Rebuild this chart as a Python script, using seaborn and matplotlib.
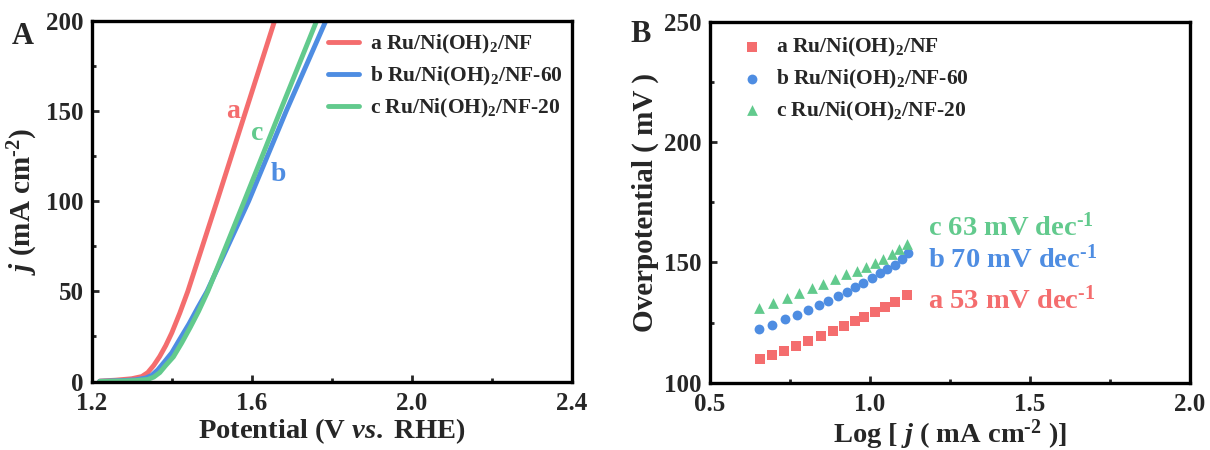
import numpy as np
import pandas as pd
import matplotlib
matplotlib.use('Agg')
from matplotlib import pyplot as plt
from matplotlib.ticker import MultipleLocator, FormatStrFormatter
import seaborn as sns

# Panel A: polarisation curves (potential V vs RHE, current density mA cm-2)
v_a = [1.22, 1.26, 1.30, 1.325, 1.34, 1.355, 1.37, 1.385, 1.40, 1.42, 1.44, 1.513, 1.585, 1.657]
j_a = [0.3, 0.8, 1.6, 2.8, 5.0, 9.0, 14.0, 20.0, 27.0, 38.0, 50.0, 100.0, 150.0, 200.0]
v_b = [1.22, 1.27, 1.31, 1.335, 1.35, 1.365, 1.38, 1.40, 1.42, 1.443, 1.465, 1.488, 1.592, 1.686, 1.785]
j_b = [0.2, 0.5, 1.0, 2.0, 3.5, 6.5, 10.5, 16.0, 23.5, 32.0, 41.0, 50.0, 100.0, 150.0, 200.0]
v_c = [1.22, 1.27, 1.31, 1.34, 1.355, 1.37, 1.385, 1.404, 1.425, 1.446, 1.467, 1.49, 1.581, 1.671, 1.762]
j_c = [0.1, 0.3, 0.6, 1.2, 2.5, 5.0, 9.0, 13.7, 21.5, 30.0, 39.0, 50.0, 100.0, 150.0, 200.0]

# Panel B: Tafel data (log j, overpotential mV)
logj_a = [0.656, 0.694, 0.732, 0.769, 0.807, 0.846, 0.885, 0.919, 0.953, 0.981, 1.016, 1.047, 1.078, 1.115]
eta_a = [109.7, 111.5, 113.3, 115.4, 117.4, 119.2, 121.5, 123.5, 125.5, 127.4, 129.5, 131.5, 133.6, 136.4]
logj_b = [0.654, 0.693, 0.734, 0.771, 0.807, 0.842, 0.870, 0.901, 0.927, 0.953, 0.979, 1.005, 1.031,
          1.054, 1.078, 1.099, 1.120]
eta_b = [122.2, 123.9, 126.3, 128.1, 130.2, 132.2, 133.9, 136.0, 137.8, 139.6, 141.5, 143.6, 145.4,
         147.1, 149.1, 151.2, 153.9]
logj_c = [0.654, 0.696, 0.740, 0.779, 0.818, 0.854, 0.891, 0.925, 0.958, 0.988, 1.016, 1.042, 1.068,
          1.092, 1.115]
eta_c = [130.9, 133.2, 135.0, 137.3, 139.2, 141.2, 142.9, 145.0, 146.5, 148.1, 149.8, 151.6, 153.4,
         155.4, 157.8]

labels = ['a Ru/Ni(OH)$_2$/NF', 'b Ru/Ni(OH)$_2$/NF-60', 'c Ru/Ni(OH)$_2$/NF-20']
tafel = [r'a 53 mV dec$^{\text{-}1}$', r'b 70 mV dec$^{\text{-}1}$', r'c 63 mV dec$^{\text{-}1}$']
colors = ['#F46D6E', '#4E8DE2', '#62CA8D']

sns.set_style('ticks')
plt.rcParams['font.family'] = ['Liberation Serif', 'DejaVu Serif']
plt.rcParams['font.weight'] = 'bold'
plt.rcParams['axes.labelweight'] = 'bold'
plt.rcParams['mathtext.fontset'] = 'custom'
plt.rcParams['mathtext.rm'] = 'Liberation Serif:bold'
plt.rcParams['mathtext.bf'] = 'Liberation Serif:bold'
plt.rcParams['mathtext.it'] = 'Liberation Serif:italic:bold'

fig = plt.figure(figsize=(12.1, 4.5), dpi=100)
ax1 = fig.add_axes([0.0758, 0.152, 0.397, 0.802])
ax2 = fig.add_axes([0.5868, 0.1496, 0.3967, 0.802])


def style_axis(ax):
    for s in ['top', 'bottom', 'left', 'right']:
        ax.spines[s].set_linewidth(2.4)
        ax.spines[s].set_color('black')
    ax.tick_params(which='major', direction='in', length=5, width=2, labelsize=18, pad=6,
                   top=False, right=False)
    ax.tick_params(axis='x', which='major', pad=7.5)
    ax.tick_params(which='minor', direction='in', length=3, width=2, top=False, right=False)
    for t in ax.get_xticklabels() + ax.get_yticklabels():
        t.set_fontweight('bold')


# Panel A
curves = [(v_a, j_a), (v_b, j_b), (v_c, j_c)]
for (xv, yv), lab, col in zip(curves, labels, colors):
    sns.lineplot(x=xv, y=yv, color=col, lw=3.5, label=lab, ax=ax1, sort=False)
ax1.set_xlim(1.2, 2.4)
ax1.set_ylim(0, 200)
ax1.xaxis.set_major_locator(MultipleLocator(0.4))
ax1.xaxis.set_minor_locator(MultipleLocator(0.2))
ax1.xaxis.set_major_formatter(FormatStrFormatter('%.1f'))
ax1.yaxis.set_major_locator(MultipleLocator(50))
ax1.yaxis.set_minor_locator(MultipleLocator(25))
ax1.set_xlabel('Potential (V $vs.$ RHE)', fontsize=20.5, labelpad=1)
ax1.set_ylabel(r'$j$ (mA cm$^{\text{-}2}$)', fontsize=21, labelpad=4)
style_axis(ax1)
ax1.legend(loc='upper left', bbox_to_anchor=(0.491, 0.965), frameon=False, fontsize=15.5,
           borderpad=0, borderaxespad=0, handlelength=1.45, handletextpad=0.52, labelspacing=0.4)
ax1.text(1.554, 146, 'a', color=colors[0], fontsize=20, ha='center', va='baseline')
ax1.text(1.614, 134, 'c', color=colors[2], fontsize=20, ha='center', va='baseline')
ax1.text(1.665, 111, 'b', color=colors[1], fontsize=20, ha='center', va='baseline')

# Panel B
tafel_data = [(logj_a, eta_a, 's', 42), (logj_b, eta_b, 'o', 50), (logj_c, eta_c, '^', 60)]
for (xv, yv, mk, sz), lab, col in zip(tafel_data, labels, colors):
    sns.scatterplot(x=xv, y=yv, color=col, marker=mk, s=sz, linewidth=0, label=lab, ax=ax2)
ax2.set_xlim(0.5, 2.0)
ax2.set_ylim(100, 250)
ax2.xaxis.set_major_locator(MultipleLocator(0.5))
ax2.xaxis.set_minor_locator(MultipleLocator(0.25))
ax2.xaxis.set_major_formatter(FormatStrFormatter('%.1f'))
ax2.yaxis.set_major_locator(MultipleLocator(50))
ax2.yaxis.set_minor_locator(MultipleLocator(25))
ax2.set_xlabel(r'Log [ $j$ ( mA cm$^{\text{-}2}$ )]', fontsize=20.5, labelpad=1)
ax2.set_ylabel('Overpotential ( mV )', fontsize=21, labelpad=4)
style_axis(ax2)
ax2.legend(loc='upper left', bbox_to_anchor=(0.065, 0.96), frameon=False, fontsize=15.5,
           borderpad=0, borderaxespad=0, handlelength=1.0, handletextpad=0.63, labelspacing=0.4)
ax2.text(1.18, 130.8, tafel[0], color=colors[0], fontsize=20.5, ha='left', va='baseline')
ax2.text(1.18, 148.0, tafel[1], color=colors[1], fontsize=20.5, ha='left', va='baseline')
ax2.text(1.18, 161.0, tafel[2], color=colors[2], fontsize=20.5, ha='left', va='baseline')

fig.text(0.0095, 1 - 37 / 450, 'A', fontsize=22, fontweight='bold', ha='left', va='center')
fig.text(0.521, 1 - 34 / 450, 'B', fontsize=22, fontweight='bold', ha='left', va='center')

plt.savefig('out.png', dpi=100)
